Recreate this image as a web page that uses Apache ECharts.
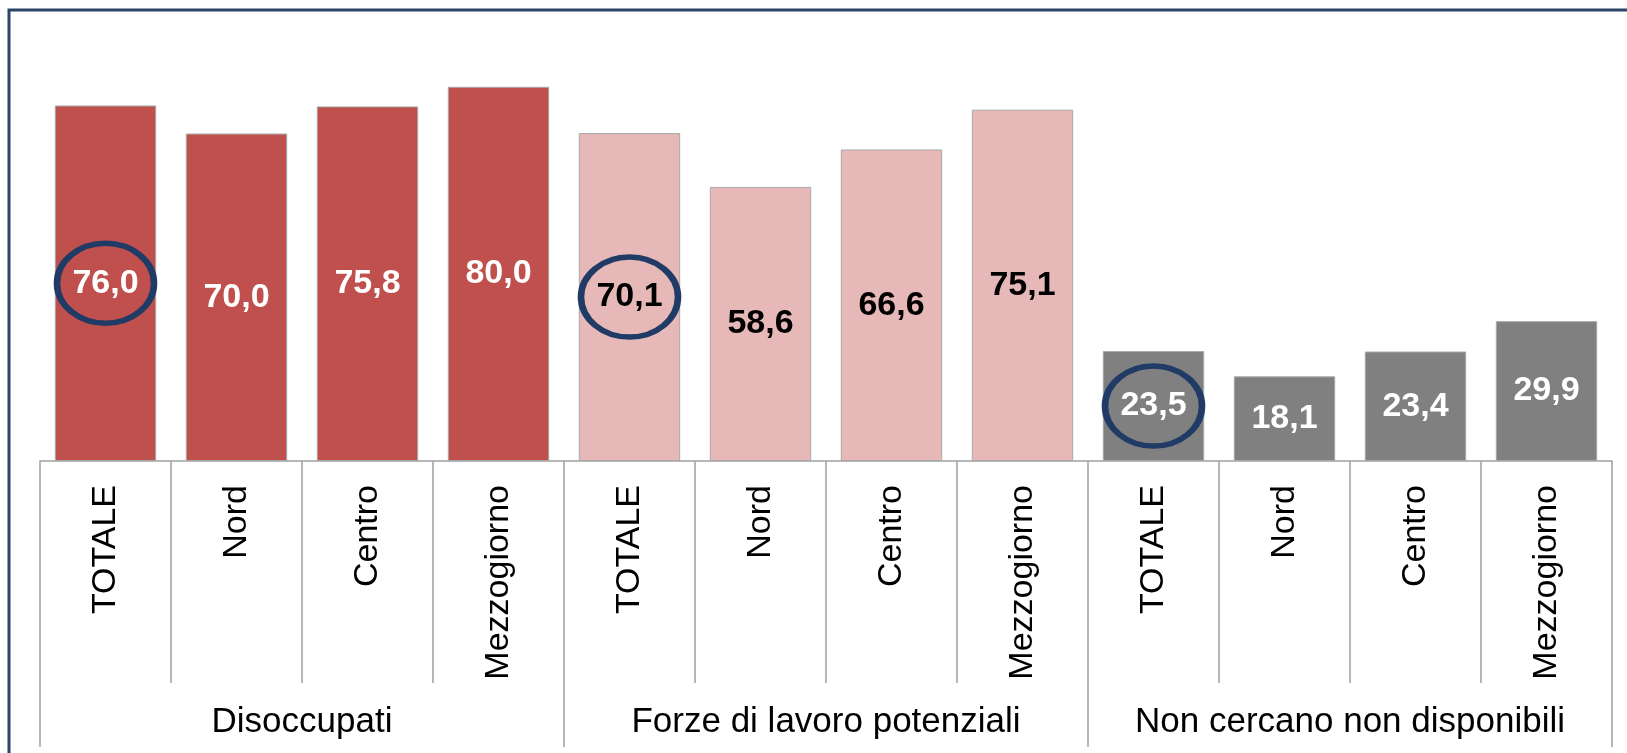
<!DOCTYPE html>
<html>
<head>
<meta charset="utf-8">
<script src="https://cdn.jsdelivr.net/npm/echarts@6/dist/echarts.min.js"></script>
<style>
html,body{margin:0;padding:0;background:#fff;}
#chart{width:1627px;height:753px;}
</style>
</head>
<body>
<div id="chart"></div>
<script>
// ---- data ----
const regions = ['TOTALE', 'Nord', 'Centro', 'Mezzogiorno'];
const groups = ['Disoccupati', 'Forze di lavoro potenziali', 'Non cercano non disponibili'];
const disoccupati = [76.0, 70.0, 75.8, 80.0];
const forzeLavoroPotenziali = [70.1, 58.6, 66.6, 75.1];
const nonCercanoNonDisponibili = [23.5, 18.1, 23.4, 29.9];
const highlightedIndex = 0; // TOTALE of each group is circled

// ---- build ----
const groupValues = [disoccupati, forzeLavoroPotenziali, nonCercanoNonDisponibili];
const groupColors = ['#C0504D', '#E6B9B8', '#808080'];
const labelColors = ['#FFFFFF', '#000000', '#FFFFFF'];
const categories = [];
const barData = [];
const circleData = [];
groupValues.forEach((vals, g) => {
  vals.forEach((v, i) => {
    categories.push(regions[i]);
    barData.push({
      value: v,
      itemStyle: { color: groupColors[g] },
      label: { color: labelColors[g] }
    });
    if (i === highlightedIndex) circleData.push([categories.length - 1, v / 2]);
  });
});

const chart = echarts.init(document.getElementById('chart'), null, { renderer: 'canvas' });
const font = '"Liberation Sans", Arial, sans-serif';
chart.setOption({
  animation: false,
  backgroundColor: '#ffffff',
  graphic: [{
    type: 'rect',
    shape: { x: 9, y: 10, width: 1700, height: 800 },
    style: { fill: 'none', stroke: '#2B4468', lineWidth: 3 },
    z: 100
  }],
  grid: { left: 40, right: 15, top: 40, bottom: 292, containLabel: false },
  xAxis: [{
    type: 'category',
    data: categories,
    position: 'bottom',
    axisLine: { show: true, lineStyle: { color: '#A0A0A0', width: 1.5 } },
    axisTick: { show: true, interval: 0, length: 222, lineStyle: { color: '#A0A0A0', width: 1.5 } },
    axisLabel: { interval: 0, rotate: 90, margin: 24, fontSize: 34, fontFamily: font, color: '#000' },
    splitLine: { show: false }
  }, {
    type: 'category',
    data: groups,
    position: 'bottom',
    axisLine: { show: false },
    axisTick: { show: true, interval: 0, length: 286, lineStyle: { color: '#A0A0A0', width: 1.5 } },
    axisLabel: { interval: 0, margin: 244, fontSize: 35, fontFamily: font, color: '#000' },
    splitLine: { show: false }
  }],
  yAxis: {
    type: 'value', min: 0, max: 90, show: false,
    splitLine: { show: false }
  },
  series: [{
    type: 'bar',
    xAxisIndex: 0,
    data: barData,
    barCategoryGap: '22.6%',
    itemStyle: { borderColor: '#A8A8A8', borderWidth: 1 },
    label: {
      show: true,
      position: 'inside',
      fontSize: 34,
      fontWeight: 'bold',
      fontFamily: font,
      formatter: p => p.value.toFixed(1).replace('.', ',')
    },
    emphasis: { disabled: true },
    z: 2
  }, {
    type: 'scatter',
    xAxisIndex: 0,
    data: circleData,
    symbol: 'circle',
    symbolSize: [97, 80],
    itemStyle: { color: 'rgba(0,0,0,0)', borderColor: '#1F3B66', borderWidth: 6, opacity: 1 },
    emphasis: { disabled: true },
    z: 5
  }]
});
</script>
</body>
</html>
